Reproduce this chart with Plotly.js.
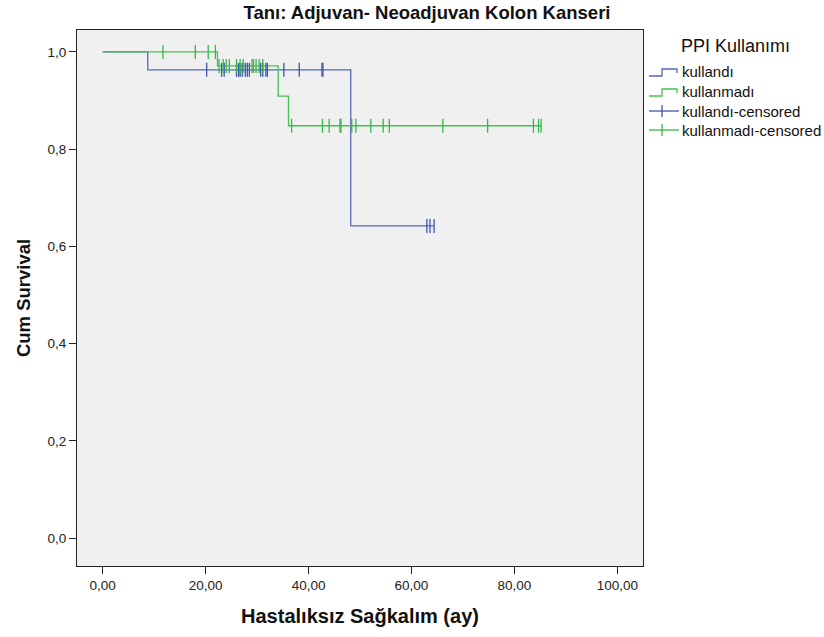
<!DOCTYPE html>
<html>
<head>
<meta charset="utf-8">
<script src="https://cdn.plot.ly/plotly-3.0.1.min.js"></script>
<style>html,body{margin:0;padding:0;background:#fff;}#chart{width:824px;height:637px;}</style>
</head>
<body>
<div id="chart"></div>
<script>
// ---- Data ----
const groupNames = ["kullandı", "kullanmadı"];
const censoredNames = ["kullandı-censored", "kullanmadı-censored"];

// Kaplan-Meier step points (time in months, cumulative survival)
const kullandiTimes = [0, 8.75, 48.2, 64.4];
const kullandiSurv  = [1.0, 0.963, 0.642, 0.642];
const kullanmadiTimes = [0, 22.3, 34.1, 36.1, 85.2];
const kullanmadiSurv  = [1.0, 0.971, 0.909, 0.848, 0.848];

// Censored observation times
const kullandiCensored = [20.2, 23.1, 23.6, 26.0, 26.4, 26.7, 27.1, 27.7, 28.1, 28.5, 30.7, 31.1, 31.7, 32.0, 35.2, 38.2, 42.6, 42.8, 63.0, 63.6, 64.4];
const kullanmadiCensored = [11.7, 18.0, 20.5, 21.9, 22.6, 23.4, 24.0, 24.6, 26.0, 26.7, 27.3, 29.0, 29.3, 29.8, 30.4, 31.1, 36.7, 42.7, 44.0, 46.1, 46.3, 48.4, 49.2, 52.1, 54.5, 55.7, 66.1, 74.8, 83.7, 84.7, 85.2];

const xTickVals = [0, 20, 40, 60, 80, 100];
const xTickText = ["0,00", "20,00", "40,00", "60,00", "80,00", "100,00"];
const yTickVals = [0, 0.2, 0.4, 0.6, 0.8, 1.0];
const yTickText = ["0,0", "0,2", "0,4", "0,6", "0,8", "1,0"];

// ---- Helpers ----
function survAt(times, surv, t) {
  let s = surv[0];
  for (let i = 0; i < times.length; i++) { if (times[i] <= t) s = surv[i]; }
  return s;
}

const FONT = "Liberation Sans, Arial, sans-serif";
const blue = "#5468B8", blueDark = "#3F55AE";
const green = "#45C154", greenDark = "#34B845";

const traces = [
  {x: kullandiTimes, y: kullandiSurv, mode: "lines", line: {shape: "hv", color: blue, width: 1.3}, name: groupNames[0]},
  {x: kullanmadiTimes, y: kullanmadiSurv, mode: "lines", line: {shape: "hv", color: green, width: 1.3}, name: groupNames[1]},
  {x: kullandiCensored, y: kullandiCensored.map(t => survAt(kullandiTimes, kullandiSurv, t)), mode: "markers",
   marker: {symbol: "line-ns", size: 10, line: {color: blueDark, width: 1.3}}, name: censoredNames[0]},
  {x: kullanmadiCensored, y: kullanmadiCensored.map(t => survAt(kullanmadiTimes, kullanmadiSurv, t)), mode: "markers",
   marker: {symbol: "line-ns", size: 10, line: {color: greenDark, width: 1.3}}, name: censoredNames[1]}
];

// layout geometry
const W = 824, H = 637, L = 77, R = 643, T = 30, B = 566;
const px = x => (x - L) / (R - L);
const py = y => (B - y) / (B - T);

const shapes = [];
const annotations = [];
// custom legend
const legendRows = [72, 92, 111, 130];
const legendLabels = [groupNames[0], groupNames[1], censoredNames[0], censoredNames[1]];
const legendColors = [blue, green, blueDark, greenDark];
legendRows.forEach((yy, i) => {
  if (i < 2) {
    shapes.push({type: "path", xref: "paper", yref: "paper",
      path: `M ${px(649)} ${py(yy+4)} L ${px(662)} ${py(yy+4)} L ${px(662)} ${py(yy-3)} L ${px(677)} ${py(yy-3)} L ${px(677)} ${py(yy+1)}`,
      line: {color: legendColors[i], width: 1.3}});
  } else {
    shapes.push({type: "line", xref: "paper", yref: "paper", x0: px(649), x1: px(679), y0: py(yy), y1: py(yy), line: {color: legendColors[i], width: 1.3}});
    shapes.push({type: "line", xref: "paper", yref: "paper", x0: px(662), x1: px(662), y0: py(yy-6), y1: py(yy+6), line: {color: legendColors[i], width: 1.3}});
  }
  annotations.push({xref: "paper", yref: "paper", x: px(680), y: py(yy), xanchor: "left", yanchor: "middle",
    text: legendLabels[i], showarrow: false, font: {family: FONT, size: 15, color: "#111"}});
});
annotations.push({xref: "paper", yref: "paper", x: px(735), y: py(46), xanchor: "center", yanchor: "middle",
  text: "PPI Kullanımı", showarrow: false, font: {family: FONT, size: 18, color: "#111"}});

const layout = {
  width: W, height: H,
  margin: {l: L, r: W - R, t: T, b: H - B, pad: 0},
  paper_bgcolor: "#ffffff",
  plot_bgcolor: "#F0F0F0",
  showlegend: false,
  title: {text: "<b>Tanı: Adjuvan- Neoadjuvan Kolon Kanseri</b>", x: 427 / W, xref: "container", xanchor: "center",
          y: 1 - 13 / H, yref: "container", yanchor: "middle",
          font: {family: FONT, size: 18.5, color: "#111"}},
  xaxis: {range: [-5, 105], tickvals: xTickVals, ticktext: xTickText, ticks: "outside", ticklen: 7, tickwidth: 1, tickcolor: "#222",
          showgrid: false, zeroline: false, showline: true, linecolor: "#222", linewidth: 1, mirror: true,
          tickfont: {family: FONT, size: 13.5, color: "#222"},
          title: {text: "<b>Hastalıksız Sağkalım (ay)</b>", standoff: 16, font: {family: FONT, size: 20, color: "#111"}}},
  yaxis: {range: [-0.0576, 1.045], tickvals: yTickVals, ticktext: yTickText, ticks: "outside", ticklen: 7, tickwidth: 1, tickcolor: "#222",
          showgrid: false, zeroline: false, showline: true, linecolor: "#222", linewidth: 1, mirror: true,
          tickfont: {family: FONT, size: 13.5, color: "#222"},
          title: {text: "<b>Cum Survival</b>", standoff: 12, font: {family: FONT, size: 18.5, color: "#111"}}},
  shapes: shapes,
  annotations: annotations
};

Plotly.newPlot("chart", traces, layout, {displayModeBar: false, staticPlot: true});
</script>
</body>
</html>
